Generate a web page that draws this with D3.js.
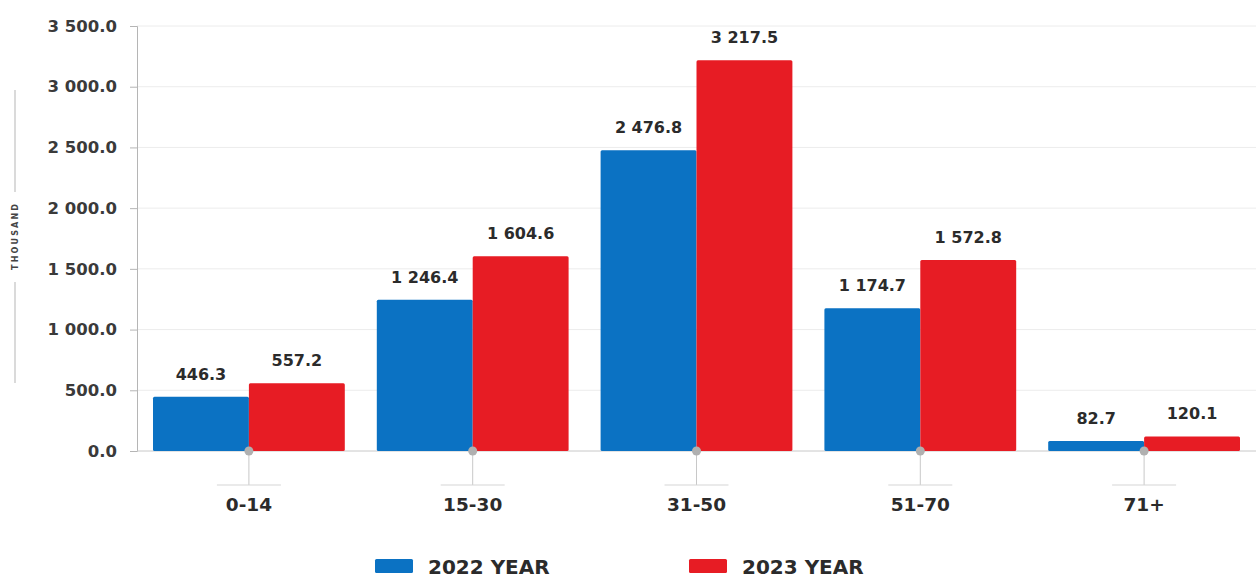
<!DOCTYPE html>
<html>
<head>
<meta charset="utf-8">
<script src="https://cdn.jsdelivr.net/npm/d3@7"></script>
<style>
  body { margin: 0; background: #fff; }
  svg { display: block; font-family: "DejaVu Sans", sans-serif; }
</style>
</head>
<body>
<svg width="1257" height="579"></svg>
<script>
const ageGroups = ['0-14', '15-30', '31-50', '51-70', '71+'];
const values2022 = [446.3, 1246.4, 2476.8, 1174.7, 82.7];
const values2023 = [557.2, 1604.6, 3217.5, 1572.8, 120.1];
const seriesNames = ['2022 YEAR', '2023 YEAR'];
const yTicks = [0, 500, 1000, 1500, 2000, 2500, 3000, 3500];

const colors = ['#0b72c3', '#e71c24'];

const svg = d3.select('svg');
const margin = {top: 26, left: 137, right: 1, bottom: 128};
const width = +svg.attr('width');
const height = +svg.attr('height');
const innerWidth = width - margin.left - margin.right;
const innerHeight = height - margin.top - margin.bottom;

const locale = d3.formatLocale({decimal: '.', thousands: ' ', grouping: [3], currency: ['', '']});
const fmt = locale.format(',.1f');

// flat list of bars: one entry per age group and year
const bars = [];
ageGroups.forEach((grp, i) => {
  bars.push({group: grp, series: 0, value: values2022[i]});
  bars.push({group: grp, series: 1, value: values2023[i]});
});

const xScale = d3.scaleBand()
  .domain(ageGroups)
  .range([0, innerWidth])
  .paddingInner(0.143)
  .paddingOuter(0.0715);
const xInner = d3.scaleBand()
  .domain([0, 1])
  .range([0, xScale.bandwidth()]);
const yScale = d3.scaleLinear()
  .domain([0, 3500])
  .range([innerHeight, 0]);

const barX = d => xScale(d.group) + xInner(d.series);

const g = svg.append('g')
  .attr('transform', `translate(${margin.left}, ${margin.top})`);

// grid
g.append('g')
  .selectAll('line').data(yTicks.slice(1))
  .enter().append('line')
    .attr('x1', 0).attr('x2', innerWidth)
    .attr('y1', d => yScale(d)).attr('y2', d => yScale(d))
    .attr('stroke', '#ececec');

// y axis
const yAxis = g.append('g')
  .call(d3.axisLeft(yScale).tickValues(yTicks).tickFormat(fmt).tickSize(7).tickPadding(13));
yAxis.attr('font-family', null).attr('font-size', null);
yAxis.select('.domain').attr('stroke', '#b5b5b5');
yAxis.selectAll('.tick line').attr('stroke', '#b5b5b5');
yAxis.selectAll('.tick text')
  .attr('font-size', 16.5).attr('font-weight', 700).attr('fill', '#3a3a3a');

// baseline
g.append('line')
  .attr('x1', 0).attr('x2', innerWidth)
  .attr('y1', innerHeight).attr('y2', innerHeight)
  .attr('stroke', '#c8c8c8');

// bars
g.selectAll('rect.bar').data(bars)
  .enter().append('rect')
    .attr('class', 'bar')
    .attr('x', barX)
    .attr('y', d => yScale(d.value))
    .attr('width', xInner.bandwidth())
    .attr('height', d => innerHeight - yScale(d.value))
    .attr('rx', 1.5)
    .attr('fill', d => colors[d.series]);

// value labels
g.selectAll('text.val').data(bars)
  .enter().append('text')
    .attr('class', 'val')
    .attr('x', d => barX(d) + xInner.bandwidth() / 2)
    .attr('y', d => yScale(d.value) - 17)
    .attr('text-anchor', 'middle')
    .attr('font-size', 16).attr('font-weight', 700).attr('fill', '#2b2b2b')
    .text(d => fmt(d.value));

// x axis decorations
const xt = g.selectAll('.xt').data(ageGroups)
  .enter().append('g')
    .attr('class', 'xt')
    .attr('transform', d => `translate(${xScale(d) + xScale.bandwidth() / 2},${innerHeight})`);
xt.append('line').attr('x1', 0).attr('x2', 0).attr('y1', 0).attr('y2', 34).attr('stroke', '#c8c8c8');
xt.append('line').attr('x1', -32).attr('x2', 32).attr('y1', 34).attr('y2', 34).attr('stroke', '#d5d5d5');
xt.append('circle').attr('r', 4.5).attr('fill', '#b0b0b0');
xt.append('text')
  .attr('y', 60).attr('text-anchor', 'middle')
  .attr('font-size', 18.5).attr('font-weight', 700).attr('fill', '#2b2b2b')
  .text(d => d);

// y label
const yl = svg.append('g').attr('transform', 'translate(15,237)');
yl.append('line').attr('x1', 0).attr('x2', 0).attr('y1', -147).attr('y2', -45).attr('stroke', '#b5b5b5');
yl.append('line').attr('x1', 0).attr('x2', 0).attr('y1', 45).attr('y2', 146).attr('stroke', '#b5b5b5');
yl.append('text')
  .attr('transform', 'translate(3,0) rotate(-90)')
  .attr('text-anchor', 'middle')
  .attr('font-size', 8).attr('font-weight', 700).attr('fill', '#444')
  .attr('textLength', 66).attr('lengthAdjust', 'spacing')
  .text('THOUSAND');

// legend
const legendX = [375, 689];
const legend = svg.selectAll('.lg').data(seriesNames)
  .enter().append('g')
    .attr('class', 'lg')
    .attr('transform', (d, i) => `translate(${legendX[i]},559)`);
legend.append('rect')
  .attr('width', 38).attr('height', 14).attr('rx', 1.5)
  .attr('fill', (d, i) => colors[i]);
legend.append('text')
  .attr('x', 53).attr('y', 15)
  .attr('font-size', 20).attr('font-weight', 700).attr('fill', '#2b2b2b')
  .text(d => d);
</script>
</body>
</html>
